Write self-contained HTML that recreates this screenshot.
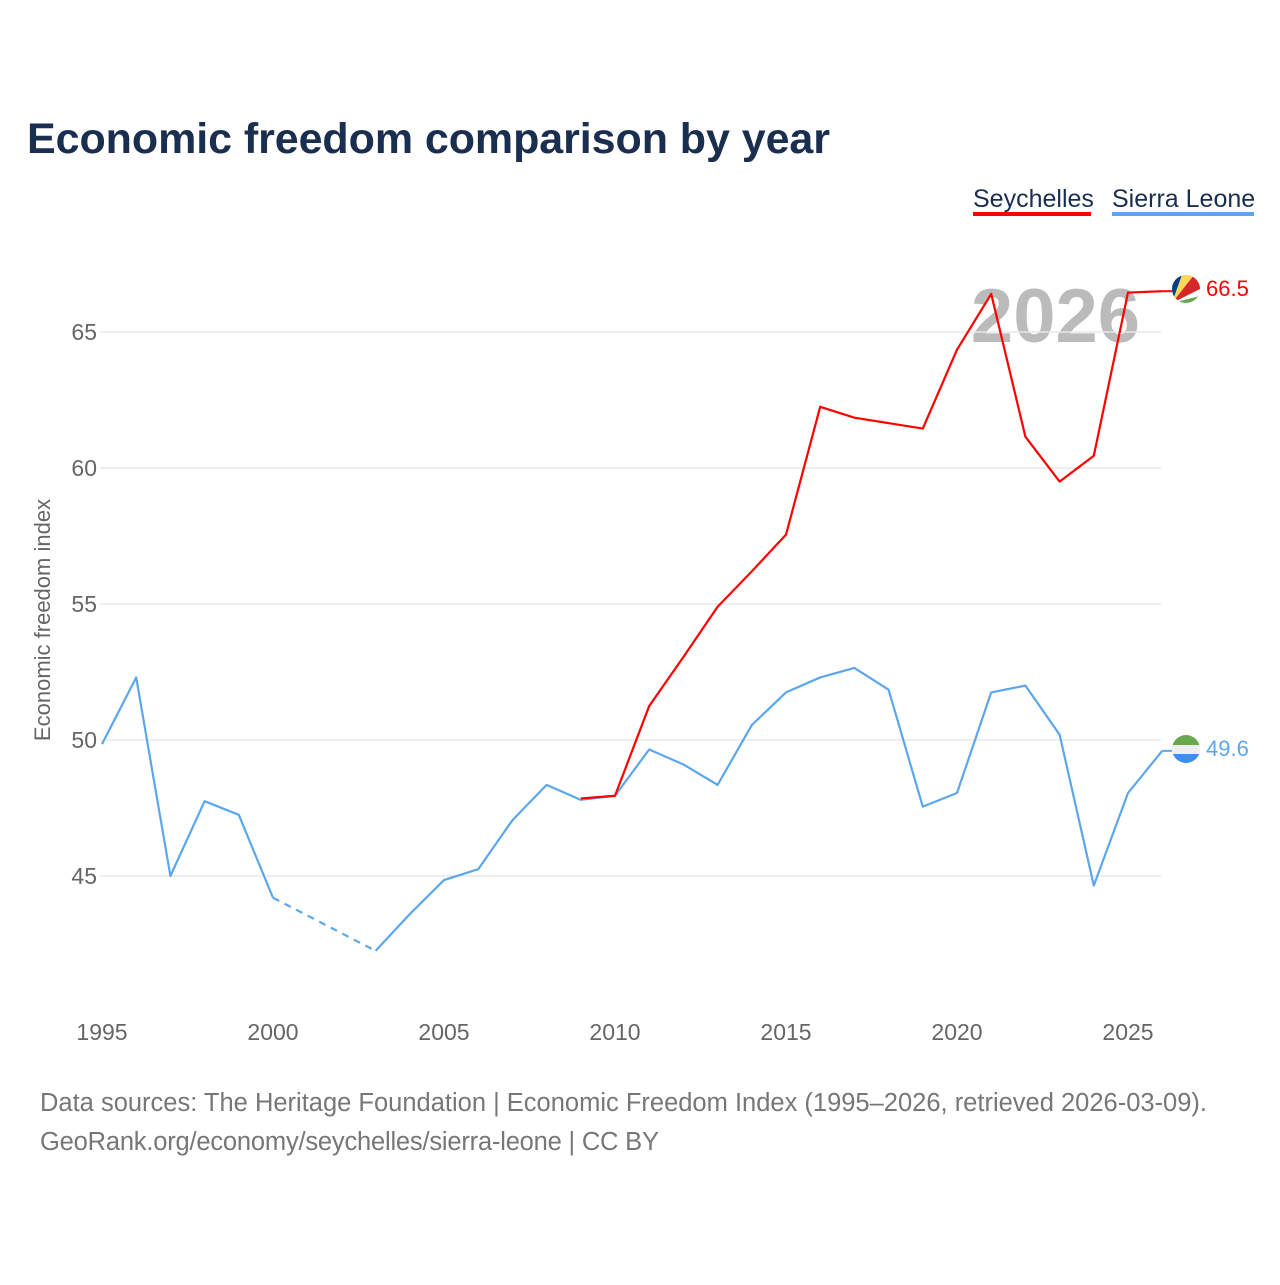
<!DOCTYPE html>
<html><head><meta charset="utf-8"><style>
body{margin:0;background:#fff;font-family:"Liberation Sans",sans-serif}
svg text{font-family:"Liberation Sans",sans-serif}
</style></head><body>
<svg width="1280" height="1280" xmlns="http://www.w3.org/2000/svg">
<text x="27" y="153" font-size="43" font-weight="bold" fill="#1a2e4f" textLength="803">Economic freedom comparison by year</text>
<g><text x="973" y="207" font-size="25" fill="#1a2e4f">Seychelles</text><rect x="973" y="212" width="118" height="4" fill="#ff0000"/></g>
<g><text x="1112" y="207" font-size="25" fill="#1a2e4f">Sierra Leone</text><rect x="1112" y="212" width="142" height="4" fill="#5ca7ec"/></g>
<text x="1140" y="342" font-size="76" font-weight="bold" fill="#bbbbbb" text-anchor="end">2026</text>
<g id="grid"></g><g id="xt"></g><g id="lines"></g>
<text transform="translate(50,620) rotate(-90)" font-size="22" fill="#666" text-anchor="middle">Economic freedom index</text>
<text x="40" y="1111" font-size="25.5" fill="#777" textLength="1167">Data sources: The Heritage Foundation | Economic Freedom Index (1995–2026, retrieved 2026-03-09).</text>
<text x="40" y="1150" font-size="25.5" fill="#777" textLength="619">GeoRank.org/economy/seychelles/sierra-leone | CC BY</text>
<defs>
<clipPath id="c1"><circle cx="1186" cy="289" r="14"/></clipPath>
<clipPath id="c2"><circle cx="1186" cy="749" r="14"/></clipPath>
</defs>
<g clip-path="url(#c1)">
<rect x="1172" y="275" width="28" height="28" fill="#007a3d"/>
<polygon points="1172,303 1172,275 1200,275 1200,303" fill="#fff"/>
<polygon points="1172,303 1172,275 1182,275" fill="#003f87"/>
<polygon points="1172,303 1182,275 1194,275" fill="#fcd856"/>
<polygon points="1172,303 1194,275 1200,275 1200,289" fill="#d62828"/>
<polygon points="1172,303 1200,296 1200,303" fill="#6aa84f"/>
</g>
<g clip-path="url(#c2)">
<rect x="1172" y="735" width="28" height="10" fill="#6aa84f"/>
<rect x="1172" y="745" width="28" height="9" fill="#eeeeee"/>
<rect x="1172" y="754" width="28" height="10" fill="#3b8ff0"/>
</g>
<text x="1206" y="296" font-size="22" fill="#ff0000">66.5</text>
<text x="1206" y="756" font-size="22" fill="#5ca7ec">49.6</text>
</svg>
<script>
const years=[1995,1996,1997,1998,1999,2000,2001,2002,2003,2004,2005,2006,2007,2008,2009,2010,2011,2012,2013,2014,2015,2016,2017,2018,2019,2020,2021,2022,2023,2024,2025,2026];
const sierraLeone=[49.85,52.3,45.0,47.75,47.25,44.2,null,null,42.25,43.6,44.85,45.25,47.05,48.35,47.8,47.95,49.65,49.1,48.35,50.55,51.75,52.3,52.65,51.85,47.55,48.05,51.75,52.0,50.2,44.65,48.05,49.6];
const seychelles=[null,null,null,null,null,null,null,null,null,null,null,null,null,null,47.85,47.95,51.25,53.05,54.9,56.2,57.55,62.25,61.85,61.65,61.45,64.35,66.4,61.15,59.5,60.45,66.45,66.5];
const yTicks=[45,50,55,60,65];
const xTicks=[1995,2000,2005,2010,2015,2020,2025];
const X=y=>102+(y-1995)*34.2, Y=v=>332+(65-v)*27.2;
const NS="http://www.w3.org/2000/svg";
function mk(t,a,p){const e=document.createElementNS(NS,t);for(const k in a)e.setAttribute(k,a[k]);document.getElementById(p).appendChild(e);return e;}
yTicks.forEach(v=>{
 const l=mk('line',{x1:100,x2:1161,y1:Y(v),y2:Y(v),stroke:'#e8e8e8','stroke-width':1.5},'grid');
 
 
 const t=mk('text',{x:97,y:Y(v)+8,'font-size':23,fill:'#666','text-anchor':'end'},'grid');t.textContent=v;
 
 
});
xTicks.forEach(v=>{
 const t=mk('text',{x:X(v),y:1040,'font-size':23,fill:'#666','text-anchor':'middle'},'xt');t.textContent=v;
 
 
});
function draw(vals,col,name){
 let d='',dash='',prev=null;
 vals.forEach((v,i)=>{
  if(v==null)return;
  const p=X(years[i])+','+Y(v);
  if(prev!=null&&prev.i===i-1)d+='L'+p;
  else{ if(prev!=null)dash+='M'+X(years[prev.i])+','+Y(prev.v)+'L'+p; d+='M'+p;}
  prev={i,v};
 });
 const a=mk('path',{d:d,fill:'none',stroke:col,'stroke-width':2.2,'stroke-linejoin':'round'},'lines');
 
 
 if(dash){const b=mk('path',{d:dash,fill:'none',stroke:col,'stroke-width':2.2,'stroke-dasharray':'7,6'},'lines');
 
 }
 const last=vals[vals.length-1];
 const c=mk('line',{x1:X(2026),x2:1172,y1:Y(last),y2:Y(last),stroke:col,'stroke-width':2},'lines');
 
 
}
draw(sierraLeone,'#5ca7ec','sierra-leone');
draw(seychelles,'#ff0000','seychelles');
</script>
</body></html>
